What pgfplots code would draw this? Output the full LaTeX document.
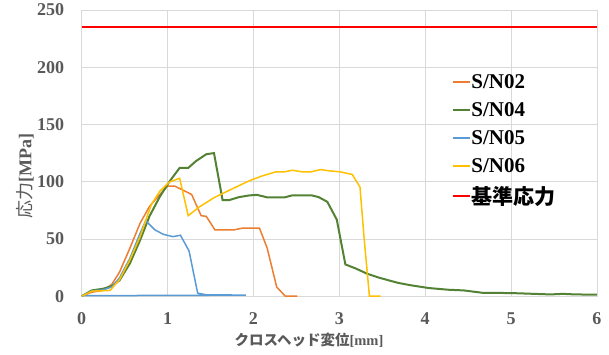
\documentclass[border=0pt]{standalone}
\usepackage{pgfplots}
\pgfplotsset{compat=1.18}
\usepackage{fontspec}
\setmainfont{Liberation Serif}
\newfontfamily\cjk{Noto Sans CJK JP}
\definecolor{sOrange}{HTML}{ED7D31}
\definecolor{sGreen}{HTML}{548235}
\definecolor{sBlue}{HTML}{5B9BD5}
\definecolor{sYellow}{HTML}{FFC000}
\definecolor{sText}{HTML}{595959}
\definecolor{sGrid}{HTML}{D9D9D9}
\begin{document}
\begin{tikzpicture}
\begin{axis}[
  scale only axis,
  width=515pt, height=286pt,
  xmin=0, xmax=6, ymin=0, ymax=250,
  xtick={0,1,2,3,4,5,6},
  ytick={0,50,100,150,200,250},
  grid=major,
  major grid style={sGrid, line width=0.8pt},
  axis line style={sGrid, line width=0.8pt},
  major tick length=0pt,
  /pgf/number format/assume math mode=true,
  tick label style={font=\fontsize{18}{20}\selectfont\bfseries, text=sText},
  yticklabel style={xshift=-14pt},
  xticklabel style={yshift=-13pt},
  xlabel={{\cjk\bfseries クロスヘッド変位}[mm]},
  xlabel style={font=\fontsize{14.5}{16}\selectfont\bfseries, text=sText, at={(axis description cs:0.441,-0.154)}, anchor=center},
  ylabel={{\cjk\mdseries\fontsize{18}{20}\selectfont 応力}[MPa]},
  ylabel style={font=\fontsize{18}{20}\selectfont\bfseries, text=sText, at={(axis description cs:-0.110,0.42)}, anchor=center},
  legend style={at={(axis description cs:0.718,0.78)}, anchor=north west, draw=none, fill=none,
    font=\fontsize{21}{23}\selectfont\bfseries, row sep=10.5pt, inner sep=0pt,
    nodes={inner sep=1pt}},
  legend cell align=left,
  clip=true,
]
\addplot[red, line width=1.4pt, forget plot] coordinates {(0,235) (6,235)};
\addplot[color=sOrange, line width=1.5pt, forget plot] coordinates {
(0,0) (0.12,3.5) (0.25,5) (0.35,10.3) (0.44,21) (0.56,41.8) (0.68,63.8) (0.79,78.5)
(0.91,88.8) (1.0,96.2) (1.08,96.2) (1.18,92.6) (1.28,88.8) (1.39,70.3) (1.45,69.7)
(1.55,58) (1.78,58) (1.87,59.4) (2.07,59.4) (2.16,41.8) (2.27,8) (2.37,0) (2.51,0)
};
\addplot[color=sGreen, line width=2pt, forget plot] coordinates {
(0,0) (0.116,5) (0.25,6.5) (0.35,8.8) (0.44,13.8) (0.56,28.5) (0.68,49) (0.79,70)
(0.91,87) (1.02,100) (1.14,112) (1.24,112) (1.33,118) (1.45,124) (1.54,125)
(1.64,84) (1.72,84) (1.83,86.5) (1.95,88) (2.04,88.5) (2.16,86.3) (2.36,86.3)
(2.45,88) (2.68,88) (2.76,86.5) (2.86,82.4) (2.97,66.8) (3.07,27.7) (3.19,24.2)
(3.32,19.7) (3.46,16.2) (3.57,13.9) (3.69,11.5) (3.84,9.4) (4.04,7.1) (4.27,5.6)
(4.45,5.0) (4.67,2.9) (5.0,2.7) (5.23,2.1) (5.46,1.5) (5.6,2.0) (5.75,1.5) (6.0,1.3)
};
\addplot[color=sBlue, line width=1.5pt, forget plot] coordinates {
(0,0) (0.12,4.5) (0.25,5.5) (0.35,8) (0.44,16) (0.56,33) (0.68,55) (0.745,65.9)
(0.85,58) (0.95,54) (1.06,52) (1.15,53.2) (1.25,39.4) (1.35,2.6) (1.45,1.2)
(1.91,0.9) (0,0.4)
};
\addplot[color=sYellow, line width=1.5pt, forget plot] coordinates {
(0,0) (0.12,4.4) (0.33,5) (0.44,14.4) (0.56,31.5) (0.68,52) (0.81,80) (0.91,91.8)
(1.02,99.7) (1.14,103) (1.24,70.3) (1.37,78) (1.54,86) (1.76,94) (1.95,100.8)
(2.10,105) (2.26,108.6) (2.36,108.6) (2.45,110) (2.57,108.6) (2.67,108.6)
(2.78,110.6) (2.88,109.5) (3.01,108.6) (3.15,106.3) (3.24,95.3) (3.29,49)
(3.35,0) (3.48,0)
};
\addlegendimage{draw={rgb,255:red,237;green,125;blue,49}, line width=1.4pt}
\addlegendentry{S/N02}
\addlegendimage{draw=sGreen, line width=1.4pt}
\addlegendentry{S/N04}
\addlegendimage{draw=sBlue, line width=1.4pt}
\addlegendentry{S/N05}
\addlegendimage{draw=sYellow, line width=1.4pt}
\addlegendentry{S/N06}
\addlegendimage{draw=red, line width=1.4pt}
\addlegendentry{{\cjk\bfseries 基準応力}}
\end{axis}
\path ([xshift=-81.7pt,yshift=-58pt]current axis.south west) rectangle ([xshift=12pt,yshift=10pt]current axis.north east);
\end{tikzpicture}
\end{document}
